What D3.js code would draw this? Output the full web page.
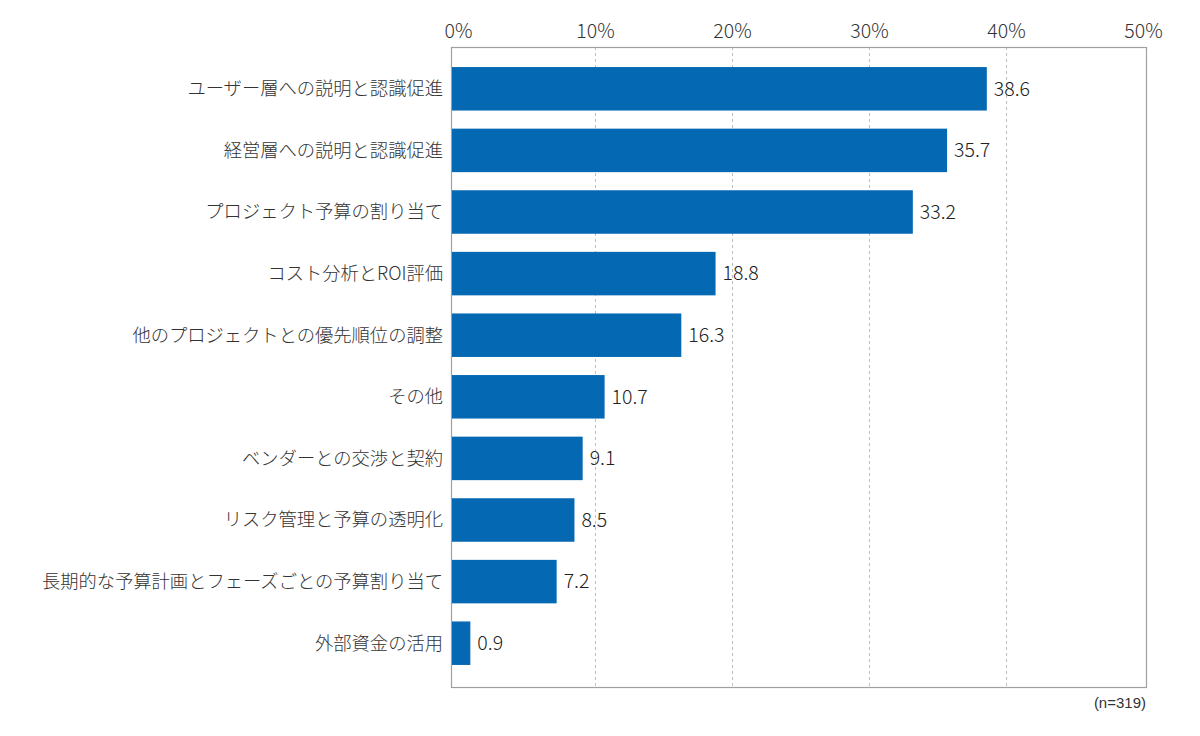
<!DOCTYPE html>
<html><head><meta charset="utf-8">
<script src="https://cdn.jsdelivr.net/npm/d3@7"></script>
<style>body{margin:0;background:#fff}</style>
</head><body>
<svg id="c" width="1200" height="736"></svg>
<script>
const categories = ["ユーザー層への説明と認識促進","経営層への説明と認識促進","プロジェクト予算の割り当て","コスト分析とROI評価","他のプロジェクトとの優先順位の調整","その他","ベンダーとの交渉と契約","リスク管理と予算の透明化","長期的な予算計画とフェーズごとの予算割り当て","外部資金の活用"];
const values = [38.6,35.7,33.2,18.8,16.3,10.7,9.1,8.5,7.2,0.9];
const tickValues = [0,10,20,30,40,50];
const note = "(n=319)";

const svg = d3.select("#c");
const frame = {l:451, r:1146, t:47, b:687};
const x = d3.scaleLinear().domain([0,50]).range([458, 1143]);
const y = d3.scaleBand().domain(categories).range([58, 674]).paddingInner(0.294).paddingOuter(0.147);
const font = "'Noto Sans CJK JP','Noto Sans',sans-serif";

// gridlines
svg.append("g").selectAll("line").data(tickValues.filter(d=>d>0&&d<50)).join("line")
  .attr("x1",d=>Math.round(x(d))+0.5).attr("x2",d=>Math.round(x(d))+0.5)
  .attr("y1",frame.t).attr("y2",frame.b)
  .attr("stroke","#bdbdbd").attr("stroke-dasharray","3,3");

// frame
svg.append("rect").attr("x",frame.l+0.5).attr("y",frame.t+0.5)
  .attr("width",frame.r-frame.l).attr("height",frame.b-frame.t)
  .attr("fill","none").attr("stroke","#a0a0a0").attr("stroke-width",1.2);

// top axis
const ax = svg.append("g").attr("transform",`translate(0,${frame.t})`)
  .call(d3.axisTop(x).tickValues(tickValues).tickFormat(d=>d+"%").tickSize(0).tickPadding(9));
ax.select(".domain").remove();
ax.selectAll("text").attr("font-family",font).attr("font-size",19.5).attr("font-weight",300).attr("fill","#333");

// bars
svg.append("g").selectAll("rect").data(values).join("rect")
  .attr("x",frame.l+1)
  .attr("y",(d,i)=>y(categories[i]))
  .attr("width",d=>x(d)-frame.l-1)
  .attr("height",y.bandwidth())
  .attr("fill","#0568b3");

// value labels
svg.append("g").selectAll("text").data(values).join("text")
  .attr("x",d=>x(d)+7)
  .attr("y",(d,i)=>y(categories[i])+y.bandwidth()/2)
  .attr("dy","0.35em")
  .attr("font-family",font).attr("font-size",19.5).attr("font-weight",300).attr("fill","#222")
  .text(d=>d.toFixed(1));

// category labels
svg.append("g").selectAll("text").data(categories).join("text")
  .attr("x",frame.l-8)
  .attr("y",d=>y(d)+y.bandwidth()/2)
  .attr("dy","0.35em").attr("text-anchor","end")
  .attr("font-family",font).attr("font-size",18.3).attr("font-weight",300).attr("fill","#333")
  .text(d=>d);

// note
svg.append("text").attr("x",frame.r).attr("y",708).attr("text-anchor","end")
  .attr("font-family","'Liberation Sans',Arial,sans-serif").attr("font-size",15).attr("fill","#333")
  .text(note);
</script>
</body></html>
